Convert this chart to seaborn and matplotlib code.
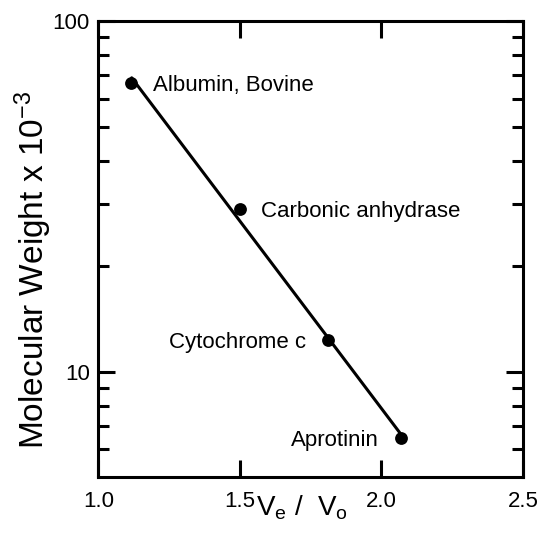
import numpy as np
import pandas as pd
import seaborn as sns
import matplotlib
matplotlib.use("Agg")
import matplotlib.pyplot as plt
from matplotlib.ticker import FixedLocator, NullFormatter, FixedFormatter

# calibration proteins
proteins = ["Albumin, Bovine", "Carbonic anhydrase", "Cytochrome c", "Aprotinin"]
ve_vo = [1.115, 1.50, 1.812, 2.071]
mw_kda = [66.5, 29.1, 12.3, 6.46]

x_ticks = [1.0, 1.5, 2.0, 2.5]
x_tick_labels = ["1.0", "1.5", "2.0", "2.5"]
y_major = [10, 100]
y_minor = [6, 7, 8, 9, 20, 30, 40, 50, 60, 70, 80, 90]

df = pd.DataFrame({"protein": proteins, "ve_vo": ve_vo, "mw": mw_kda})

# straight line fit of log(MW) against Ve/Vo
slope, icpt = np.polyfit(df["ve_vo"], np.log10(df["mw"]), 1)
fit = pd.DataFrame({"ve_vo": [1.118, df["ve_vo"].max()]})
fit["mw"] = 10 ** (icpt + slope * fit["ve_vo"])

sns.set_style("ticks")
plt.rcParams["font.family"] = ["Liberation Sans", "DejaVu Sans"]
plt.rcParams["mathtext.fontset"] = "custom"
plt.rcParams["mathtext.rm"] = "Liberation Sans"
plt.rcParams["mathtext.it"] = "Liberation Sans"
plt.rcParams["mathtext.default"] = "regular"
plt.rcParams["text.color"] = "black"
plt.rcParams["axes.labelcolor"] = "black"
plt.rcParams["xtick.color"] = "black"
plt.rcParams["ytick.color"] = "black"

fig, ax = plt.subplots(figsize=(5.43, 5.41), dpi=100)
fig.subplots_adjust(left=0.181, right=0.963, top=0.961, bottom=0.118)

sns.lineplot(data=fit, x="ve_vo", y="mw", ax=ax, color="black", linewidth=2.2)
sns.scatterplot(data=df, x="ve_vo", y="mw", ax=ax, color="black", s=85,
                edgecolor="black", linewidth=0, zorder=3)

ax.set_yscale("log")
ax.set_xlim(1.0, 2.5)
ax.set_ylim(5, 100)

# label offsets (points) and alignment for each protein
offsets = [(16, 0), (15, 0), (-16, 0), (-16, 0)]
aligns = ["left", "left", "right", "right"]
for (name, xv, yv), off, ha in zip(df[["protein", "ve_vo", "mw"]].values, offsets, aligns):
    ax.annotate(name, (xv, yv), xytext=off, textcoords="offset points",
                ha=ha, va="center_baseline", fontsize=16)

ax.xaxis.set_major_locator(FixedLocator(x_ticks))
ax.xaxis.set_major_formatter(FixedFormatter(x_tick_labels))
ax.yaxis.set_major_locator(FixedLocator(y_major))
ax.yaxis.set_major_formatter(FixedFormatter([str(v) for v in y_major]))
ax.yaxis.set_minor_locator(FixedLocator(y_minor))
ax.yaxis.set_minor_formatter(NullFormatter())

ax.tick_params(axis="both", which="major", direction="in", length=12, width=2.2,
               labelsize=16, top=True, right=True)
ax.tick_params(axis="x", which="major", pad=10)
ax.tick_params(axis="y", which="major", pad=6)
ax.tick_params(axis="y", which="minor", direction="in", length=8, width=2.2,
               right=True)
ax.tick_params(axis="x", which="minor", bottom=False, top=False)
for side in ax.spines.values():
    side.set_linewidth(2.2)
    side.set_color("black")

ax.set_xlabel(r"V$_{e}$ /  V$_{o}$", fontsize=20)
ax.xaxis.set_label_coords(0.48, -0.035, transform=ax.transAxes)
ax.xaxis.label.set_va("top")
ax.set_ylabel(r"Molecular Weight x 10$^{-3}$", fontsize=24)
ax.yaxis.set_label_coords(-0.105, 0.455)

fig.savefig("out.png", dpi=100)
